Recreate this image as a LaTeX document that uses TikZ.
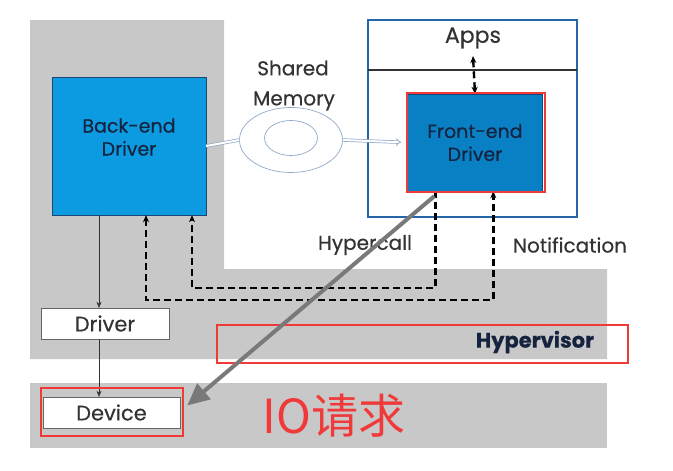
\documentclass[tikz,border=0pt]{standalone}
\usepackage{fontspec}
\setmainfont{Poppins}[FakeBold=0.4]
\newfontfamily\cjkfont{Noto Sans CJK SC}
\usetikzlibrary{arrows.meta, shapes.geometric}
\definecolor{bgray}{HTML}{C8C8C8}
\definecolor{beblue}{HTML}{0C9BE0}
\definecolor{feblue}{HTML}{0A80C4}
\definecolor{frameblue}{HTML}{2566A8}
\definecolor{txtnavy}{HTML}{15233F}
\definecolor{shmblue}{HTML}{8FA8C8}
\definecolor{hlred}{HTML}{F03A3A}

\begin{document}
\begin{tikzpicture}[x=1pt, y=-1pt,
    lbl/.style={font=\fontsize{20}{22}\selectfont, text=black!80},
    drvbox/.style={draw=frameblue!70!black, minimum width=#1, align=center,
        font=\fontsize{19}{23}\selectfont, text=txtnavy},
    smallbox/.style={draw=gray!80!black, fill=white, minimum width=#1, minimum height=31,
        font=\fontsize{21}{23}\selectfont, text=black!80},
    dashline/.style={line width=2.4pt, dash pattern=on 7pt off 4pt, >={Stealth[length=7pt, width=6pt]}},
    shmline/.style={draw=shmblue, double=white, double distance=2pt, line width=0.7pt},
    hlbox/.style={draw=hlred, line width=2.2pt}]
    \useasboundingbox (0, 0) rectangle (673, 471);
    % Layers
    \fill [bgray] (30, 20) -- (224, 20) -- (224, 269) -- (607, 269) -- (607, 359) -- (30, 359) -- cycle;
    \fill [bgray] (30, 383) rectangle (607, 448);
    \draw [frameblue, line width=2pt] (368, 20) rectangle (577, 217);
    \draw [black!80, line width=1.2pt] (368, 70) -- (577, 70);
    % Boxes
    \node [drvbox=154, minimum height=138, text depth=18pt, fill=beblue] (be) at (129, 146) {Back-end\\Driver};
    \node [drvbox=135, minimum height=97, fill=feblue] (fe) at (475, 142.5) {Front-end\\Driver};
    \node [smallbox=128] (drv) at (105, 323.5) {Driver};
    \node [smallbox=137] (dev) at (111.5, 412.5) {Device};
    \node [font=\fontsize{22}{24}\selectfont, text=black!80] (apps) at (473, 38) {Apps};
    % Shared memory
    \node [ellipse, draw=shmblue, line width=0.7pt, minimum width=103, minimum height=65] (shm) at (291, 140) {};
    \node [ellipse, draw=shmblue, line width=0.7pt, minimum width=53, minimum height=35] (shmin) at (291, 138) {};
    \node [lbl] (shared) at (293, 68) {Shared};
    \node [lbl] (memory) at (294, 101) {Memory};
    \draw [shmline] (be.east) -- (shm.west);
    \draw [shmline, -{Implies}, shorten >=6pt] (shm.east) -- (fe.west);
    % Labels
    \node [lbl] (hclbl) at (365, 245) {Hypercall};
    \node [lbl] (ntlbl) at (570, 245) {Notification};
    \node [font=\bfseries\fontsize{21}{23}\selectfont, text=txtnavy] (hv) at (535, 342) {Hypervisor};
    \node [font=\cjkfont\fontsize{47}{50}\selectfont, text=hlred] (io) at (334, 416) {IO请求};
    % Arrows
    \draw [dashline, <->] ([yshift=-4pt]apps.south) -- (fe.north);
    \coordinate (hc) at (192, 288);
    \coordinate (nt) at (146, 300);
    \draw [dashline, ->] ([xshift=28pt]fe.south west) |- (hc) -- (hc |- be.south);
    \draw [dashline, <->] (be.south -| nt) -- (nt) -| ([xshift=86pt]fe.south west);
    \draw [black!80, -{Stealth[length=6pt, width=5pt]}] (be.south -| 99, 0) -- (drv.north -| 99, 0);
    \draw [black!80, -{Stealth[length=6pt, width=5pt]}] (drv.south -| 99, 0) -- (dev.north -| 99, 0);
    % Highlights
    \draw [hlbox] (407, 93) rectangle (545, 192);
    \draw [hlbox] (41, 388) rectangle (183, 436);
    \draw [hlbox] (217, 325) rectangle (628, 363);
    \draw [gray!95!black, line width=4pt, -{Triangle[length=22pt, width=20pt]}]
        ([xshift=27pt, yshift=-5pt]fe.south west) -- ([xshift=7pt, yshift=7pt]dev.east);
\end{tikzpicture}
\end{document}
